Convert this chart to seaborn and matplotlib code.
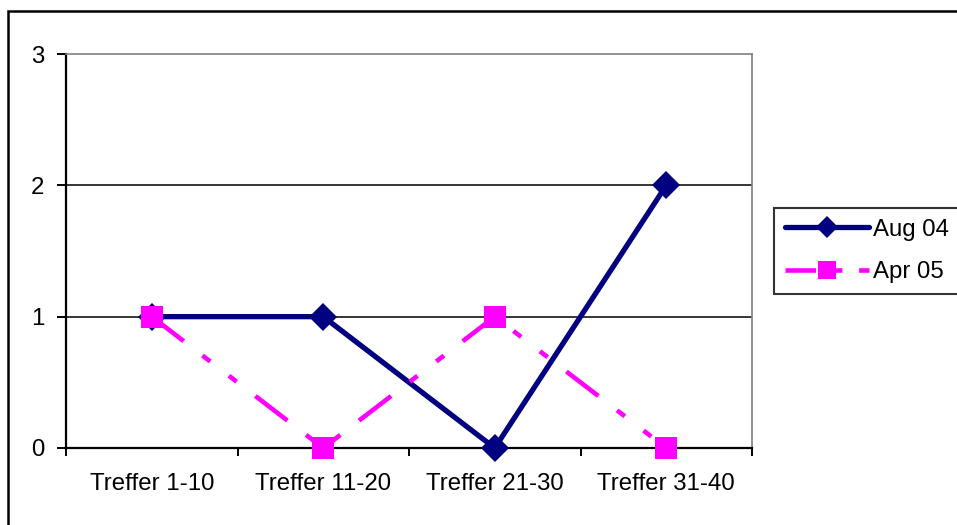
import matplotlib
matplotlib.use("Agg")
import matplotlib.pyplot as plt
import seaborn as sns
import pandas as pd
from matplotlib.patches import Rectangle
from matplotlib.lines import Line2D

categories = ["Treffer 1-10", "Treffer 11-20", "Treffer 21-30", "Treffer 31-40"]
aug04 = [1, 1, 0, 2]
apr05 = [1, 0, 1, 0]
series_names = ["Aug 04", "Apr 05"]
y_ticks = [0, 1, 2, 3]

sns.set_theme(style="white")
plt.rcParams["font.family"] = ["Liberation Sans", "DejaVu Sans"]
plt.rcParams["text.color"] = "black"
plt.rcParams["xtick.color"] = "black"
plt.rcParams["ytick.color"] = "black"
plt.rcParams["lines.scale_dashes"] = False

FS = 17.3
navy = "#000080"
magenta = "#FF00FF"
dash_pattern = (0, (29, 17, 7, 17, 7, 17))

df = pd.DataFrame({
    "pos": list(range(len(categories))) * 2,
    "value": aug04 + apr05,
    "series": [series_names[0]] * len(aug04) + [series_names[1]] * len(apr05),
})

fig = plt.figure(figsize=(9.57, 5.25), dpi=100)
ax = fig.add_axes([66 / 957, 1 - 448 / 525, (752 - 66) / 957, (448 - 54) / 525])

# horizontal gridlines
for v in y_ticks[1:3]:
    ax.axhline(v, color="black", lw=1.1, zorder=1)

sns.lineplot(data=df[df.series == series_names[0]], x="pos", y="value", ax=ax,
             color=navy, lw=3.8, marker="D", markersize=14.5, markeredgewidth=0,
             legend=False, zorder=3, clip_on=False)
sns.lineplot(data=df[df.series == series_names[1]], x="pos", y="value", ax=ax,
             color=magenta, lw=3.3, marker="s", markersize=16.5, markeredgewidth=0,
             legend=False, zorder=4, clip_on=False)
ax.lines[-1].set_linestyle(dash_pattern)

ax.set_xlim(-0.5, 3.5)
ax.set_ylim(0, 3)
ax.set_xlabel("")
ax.set_ylabel("")

# boundary ticks without labels, category labels at centers
ax.set_xticks([-0.5, 0.5, 1.5, 2.5, 3.5])
ax.set_xticklabels([])
ax.set_xticks(range(len(categories)), minor=True)
ax.set_xticklabels(categories, minor=True, fontsize=FS)
ax.tick_params(axis="x", which="major", direction="out", length=6, width=1.4, bottom=True)
ax.tick_params(axis="x", which="minor", length=0, pad=18)
ax.set_yticks(y_ticks)
ax.set_yticklabels([str(v) for v in y_ticks], fontsize=FS)
ax.tick_params(axis="y", direction="out", length=6.5, width=1.4, left=True, pad=9)

for s in ["left", "bottom"]:
    ax.spines[s].set_color("black")
    ax.spines[s].set_linewidth(1.6)
for s in ["top", "right"]:
    ax.spines[s].set_color("#808080")
    ax.spines[s].set_linewidth(1.2)

# legend
handles = [
    Line2D([], [], color=navy, lw=3.8, marker="D", markersize=11, markeredgewidth=0),
    Line2D([], [], color=magenta, lw=3.3, marker="s", markersize=12.5, markeredgewidth=0,
           linestyle=(0, (22, 12, 7, 12))),
]
leg = fig.legend(handles, series_names, loc="upper left",
                 bbox_to_anchor=(774 / 957, 1 - 208 / 525), fontsize=FS,
                 frameon=True, fancybox=False, edgecolor="black",
                 handlelength=3.5, handletextpad=0.15, borderpad=0.45,
                 labelspacing=0.85, borderaxespad=0)
leg.get_frame().set_linewidth(1.5)

# outer chart frame
fig.patches.append(Rectangle((8 / 957, -0.05), 1.1, 1 - 11 / 525 + 0.05,
                             transform=fig.transFigure, fill=False,
                             edgecolor="black", lw=1.8, clip_on=False))

fig.savefig("out.png", dpi=100)
